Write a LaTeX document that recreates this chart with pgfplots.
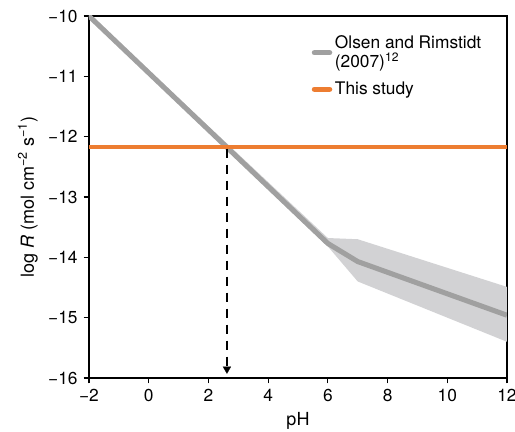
\documentclass[border=0pt]{standalone}
\usepackage{fontspec}
\setmainfont{TeX Gyre Heros}
\usepackage{pgfplots}
\pgfplotsset{compat=1.18}
\usetikzlibrary{arrows.meta}
\definecolor{olsengray}{RGB}{160,160,160}
\definecolor{bandgray}{RGB}{210,210,212}
\definecolor{studyorange}{RGB}{237,125,49}

\begin{document}
\fontsize{13}{15}\selectfont
\begin{tikzpicture}
\begin{axis}[
  name=ax,
  scale only axis,
  width=313.5pt, height=271.5pt,
  xmin=-2, xmax=12, ymin=-16, ymax=-10,
  xtick={-2,0,...,12},
  xticklabels={−2,0,2,4,6,8,10,12},
  ytick={-16,-15,...,-10},
  yticklabels={−16,−15,−14,−13,−12,−11,−10},
  tick align=outside,
  xtick pos=bottom, ytick pos=left,
  major tick length=4pt,
  axis line style={line width=0.8pt},
  tick style={line width=0.8pt, black},
  tick label style={font=\fontsize{13}{15}\selectfont},
  xlabel={pH},
  ylabel={log \textit{R} (mol cm\textsuperscript{−2} s\textsuperscript{−1})},
  label style={font=\fontsize{13.5}{15}\selectfont},
  xlabel style={yshift=1pt},
  ylabel style={yshift=-1pt},
  legend style={draw=none, fill=none, at={(0.955,0.962)}, anchor=north east,
    font=\fontsize{13}{14.5}\selectfont, row sep=4.5pt,
    cells={align=left, anchor=west}},
  legend cell align=left,
  legend image code/.code={\draw[#1, line width=4pt, line cap=round] (0cm,0cm) -- (0.4cm,0cm);},
  clip=true,
]
% uncertainty band (upper edge, then lower edge reversed)
\addplot[fill=bandgray, draw=none, forget plot] coordinates {
  (-2,-9.97) (6,-13.68) (7,-13.70) (12,-14.49)
  (12,-15.40) (7,-14.40) (6,-13.82) (-2,-10.03)
} -- cycle;
\addplot[olsengray, line width=3.8pt] coordinates {
  (-2,-10.00) (6,-13.77) (7,-14.07) (12,-14.96)
};
\addlegendentry{Olsen and Rimstidt\\(2007)\textsuperscript{12}}
\addplot[studyorange, line width=3pt] coordinates {
  (-2,-12.17) (12,-12.17)
};
\addlegendentry{This study}
\addplot[black, line width=1.9pt, dash pattern=on 7pt off 5pt, forget plot] coordinates {
  (2.62,-12.20) (2.62,-15.80)
};
\addplot[black, line width=0.1pt, fill=black, forget plot, mark=triangle*, mark size=3.5pt,
  mark options={rotate=180}] coordinates {(2.62,-15.85)};
\end{axis}
\pgfresetboundingbox
\useasboundingbox ([shift={(-66.75pt,-40.5pt)}]ax.south west) rectangle ([shift={(6pt,12pt)}]ax.north east);
\end{tikzpicture}
\end{document}
